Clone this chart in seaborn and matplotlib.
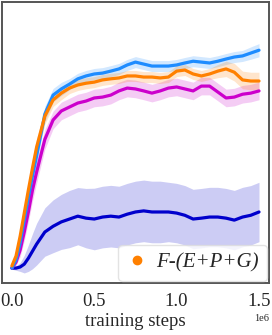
import matplotlib
matplotlib.use("Agg")
import matplotlib.pyplot as plt
from matplotlib.lines import Line2D
import numpy as np
import seaborn as sns

# --- data -----------------------------------------------------------
steps_m = [0.0, 0.025, 0.05, 0.075, 0.1, 0.125, 0.15, 0.2, 0.25, 0.3, 0.35, 0.4,
           0.45, 0.5, 0.55, 0.6, 0.65, 0.7, 0.75, 0.8, 0.85, 0.9, 0.95, 1.0,
           1.05, 1.1, 1.15, 1.2, 1.25, 1.3, 1.35, 1.4, 1.45, 1.5]

full_mean = [0, 3.6, 11.4, 21.8, 32, 42, 51, 70, 78.6, 81.4, 83.6, 86, 87.3, 88.2,
             88.6, 89.5, 90.5, 92.3, 93.6, 92.7, 91.8, 91.8, 91.8, 92.3, 93.2, 94,
             93.6, 93.2, 94, 95, 95.9, 96.4, 97.7, 99]
full_band = [0.5, 1, 2, 3, 3.5, 4, 4, 3.5, 3, 3, 2.5, 2.5, 2.5, 2.5, 2.5, 2.5, 2.5,
             2.5, 2.5, 2.5, 2.5, 2.5, 2.5, 2.5, 2.5, 2.5, 2.5, 2.5, 2.5, 2.5, 2.5,
             2.5, 2.8, 3]

ablated_mean = [1, 5.5, 14.5, 25, 35.5, 45.5, 55, 69, 76.4, 79.5, 81.8, 83.2, 84,
                84.5, 85.5, 86, 86.4, 87.3, 87.3, 86.8, 86.8, 86.4, 86.8, 89.5, 90,
                88.2, 87.3, 88.2, 89.5, 90.5, 89, 85.5, 85, 85]
ablated_band = [0.5, 1, 2, 3, 3.5, 4, 4, 3.5, 3, 3, 2.5, 2.5, 2.5, 2.5, 2.5, 2.5,
                2.5, 2.5, 2.5, 2.5, 2.5, 2.5, 2.5, 2.5, 2.5, 2.5, 2.5, 2.5, 3, 3.5,
                4, 4, 4, 4]

magenta_mean = [0, 2.7, 8.2, 16.4, 25.5, 35.5, 43.6, 58.5, 67.3, 71.4, 73.2, 75,
                75.9, 77.3, 77.7, 78.6, 80.5, 81.8, 81.4, 80.5, 79.5, 80.5, 81.8,
                82.3, 81.4, 80.5, 82.7, 82.7, 80, 77.3, 77.7, 79, 79.5, 80.5]
magenta_band = [0.5, 1.5, 3, 4, 4.5, 5, 5, 4.5, 4, 4, 4, 4, 4, 4, 4, 4, 4, 4, 4, 4,
                4, 4, 4, 4, 4, 4, 4, 4, 4, 4, 4, 4, 4, 4]

navy_mean = [0, 0, 0.5, 1.8, 4.5, 7.7, 10.9, 16.4, 19, 21, 22.3, 23.6, 22.7, 22.3,
             23.2, 23.6, 23.2, 24.5, 25.5, 26, 25.5, 25.5, 25.5, 25, 24, 22.3,
             22.7, 23.2, 23.2, 22.7, 21.8, 23.2, 24, 25.5]
navy_band = [0.5, 1, 2, 4, 6, 8, 9.5, 11, 12, 12.5, 13, 13, 13.5, 14, 14, 14, 14,
             14, 14, 14, 14, 14, 13.5, 13.5, 13.5, 13.5, 13.5, 13.5, 13.5, 13.5,
             13.5, 13.5, 13.5, 13.5]

series = [
    ("navy", navy_mean, navy_band, "#0000cc"),
    ("magenta", magenta_mean, magenta_band, "#cc00cc"),
    ("full", full_mean, full_band, "#1e8cff"),
    ("ablated", ablated_mean, ablated_band, "#ff8000"),
]

sns.set_theme(style="white")
plt.rcParams["font.family"] = ["Liberation Serif", "DejaVu Serif"]

fig = plt.figure(figsize=(2.72, 3.35), dpi=100)
ax = fig.add_axes([0.007, 0.155, 0.982, 0.839])

x = np.array(steps_m) * 1e6
for name, mean, band, color in series:
    mean = np.array(mean)
    band = np.array(band)
    ax.fill_between(x, mean - band, mean + band, color=color, alpha=0.2, lw=0)
    sns.lineplot(x=x, y=mean, color=color, lw=2.3, ax=ax)

ax.set_xlim(-0.0607e6, 1.5607e6)
ax.set_ylim(-6.8, 120.9)
ax.set_xticks([0, 0.5e6, 1.0e6, 1.5e6])
ax.set_yticks([])
ax.tick_params(axis="x", length=0, labelsize=13.5, pad=7)
ax.xaxis.get_offset_text().set_fontsize(7.5)
ax.set_xlabel("training steps", fontsize=13.5, labelpad=2)
for s in ax.spines.values():
    s.set_color("#555555")
    s.set_linewidth(1.4)

handle = Line2D([], [], marker="o", color="#ff8000", lw=0, markersize=6)
ax.legend([handle], ["F-(E+P+G)"], loc="lower right", prop={"style": "italic", "size": 15},
          handletextpad=0.4, borderaxespad=0.1, borderpad=0.4, handlelength=1.0,
          frameon=True, edgecolor="#dddddd")

fig.savefig("out.png", dpi=100)
